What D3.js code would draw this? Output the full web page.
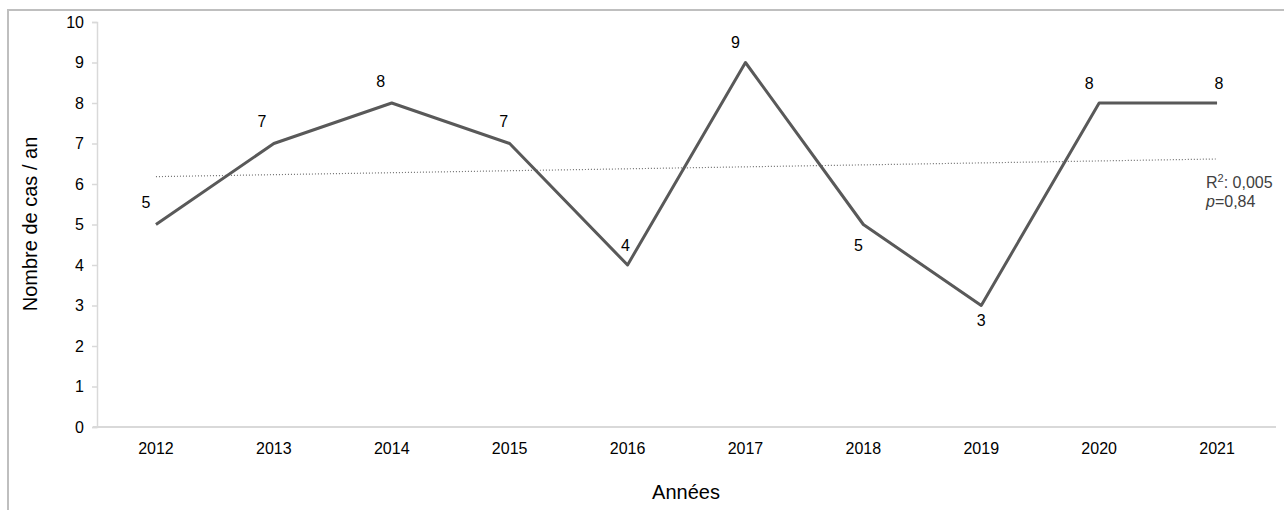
<!DOCTYPE html>
<html>
<head>
<meta charset="utf-8">
<script src="https://cdn.jsdelivr.net/npm/d3@7"></script>
<style>
  html, body { margin: 0; padding: 0; background: #fff; }
  svg { display: block; font-family: Arial, "Liberation Sans", sans-serif; }
</style>
</head>
<body>
<svg id="chart" width="1284" height="510"></svg>
<script>
// ---- data ----
const years = ["2012","2013","2014","2015","2016","2017","2018","2019","2020","2021"];
const cases = [5, 7, 8, 7, 4, 9, 5, 3, 8, 8];
const yTicks = [0,1,2,3,4,5,6,7,8,9,10];
const statsLines = ["R²: 0,005", "p=0,84"];
// label placement (style only): dx, dy relative to point
const labelOffsets = [[-10,-22],[-12,-22],[-11,-22],[-6,-22],[-2,-20],[-10,-20],[-5,21],[0,15],[-10,-20],[2,-20]];

const svg = d3.select("#chart");
const W = 1284, H = 510;

// outer frame
svg.append("path")
  .attr("d", `M8,${H+2} L8,10 L${W+2},10`)
  .attr("fill","none").attr("stroke","#bfbfbf").attr("stroke-width",2);

const plot = {left: 97, right: 1276, top: 22, bottom: 427};

const x = d3.scaleBand().domain(years).range([plot.left, plot.right]);
const y = d3.scaleLinear().domain([0,10]).range([plot.bottom, plot.top]);
const cx = d => x(d) + x.bandwidth()/2;

// y axis
const yAxis = svg.append("g").attr("transform",`translate(${plot.left},0)`)
  .call(d3.axisLeft(y).tickValues(yTicks).tickSize(5).tickPadding(8).tickFormat(d3.format("d")));
yAxis.select(".domain").attr("stroke","#d9d9d9").attr("stroke-width",1.5);
yAxis.selectAll(".tick line").attr("stroke","#d9d9d9").attr("stroke-width",1.5);
yAxis.selectAll(".tick text").attr("fill","#000").style("font-size","16px")
  .style("font-family","Arial, 'Liberation Sans', sans-serif");

// x axis
const xAxis = svg.append("g").attr("transform",`translate(0,${plot.bottom})`)
  .call(d3.axisBottom(x).tickSize(0).tickPadding(16));
xAxis.select(".domain").attr("d", `M${plot.left-4},0H${plot.right}`)
  .attr("stroke","#d9d9d9").attr("stroke-width",2);
xAxis.selectAll(".tick text").attr("fill","#000").style("font-size","16px")
  .style("font-family","Arial, 'Liberation Sans', sans-serif");

// trendline (linear least squares on the data)
const n = cases.length;
const xi = d3.range(n);
const mx = d3.mean(xi), my = d3.mean(cases);
const slope = d3.sum(xi, i => (i-mx)*(cases[i]-my)) / d3.sum(xi, i => (i-mx)*(i-mx));
const intercept = my - slope*mx;
svg.append("line")
  .attr("x1", cx(years[0])).attr("y1", y(intercept))
  .attr("x2", cx(years[n-1])).attr("y2", y(intercept + slope*(n-1)))
  .attr("stroke","#6f6f6f").attr("stroke-width",1.2).attr("stroke-dasharray","1,2");

// main line
const line = d3.line().x((d,i) => cx(years[i])).y(d => y(d));
svg.append("path").datum(cases)
  .attr("d", line).attr("fill","none")
  .attr("stroke","#595959").attr("stroke-width",3).attr("stroke-linejoin","round");

// data labels
svg.append("g").selectAll("text").data(cases).join("text")
  .attr("x", (d,i) => cx(years[i]) + labelOffsets[i][0])
  .attr("y", (d,i) => y(d) + labelOffsets[i][1])
  .attr("text-anchor","middle").attr("dominant-baseline","central")
  .style("font-size","16px").attr("fill","#000")
  .text(d => d);

// stats text
const st = svg.append("text").attr("x",1206).attr("y",188).style("font-size","16px").attr("fill","#404040");
st.append("tspan").text("R");
st.append("tspan").text("2").style("font-size","11px").attr("dy",-6);
st.append("tspan").text(": 0,005").attr("dy",6);
const st2 = svg.append("text").attr("x",1206).attr("y",207).style("font-size","16px").attr("fill","#404040");
st2.append("tspan").text("p").style("font-style","italic");
st2.append("tspan").text("=0,84");

// axis titles
svg.append("text").attr("x", 686).attr("y", 499).attr("text-anchor","middle")
  .style("font-size","20px").attr("fill","#000").text("Années");
svg.append("text").attr("transform","translate(37,224) rotate(-90)")
  .attr("text-anchor","middle").style("font-size","20px").attr("fill","#000")
  .text("Nombre de cas / an");
</script>
</body>
</html>
